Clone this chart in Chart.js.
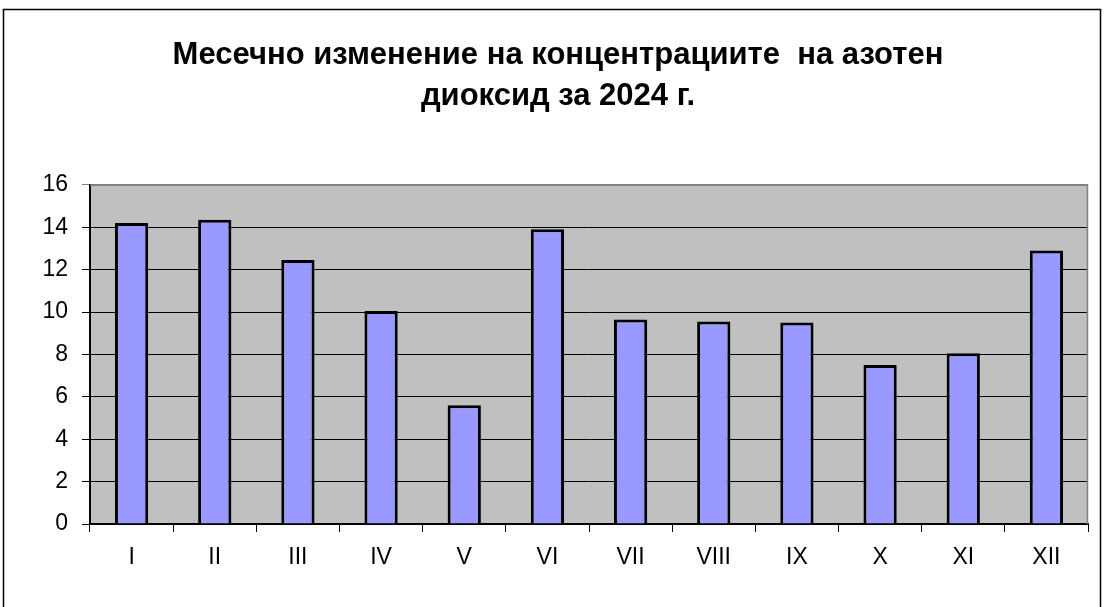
<!DOCTYPE html>
<html>
<head>
<meta charset="utf-8">
<script src="https://cdn.jsdelivr.net/npm/chart.js@4"></script>
<style>
  html, body { margin: 0; padding: 0; background: #fff; }
  #wrap { width: 1104px; height: 607px; }
</style>
</head>
<body>
<div id="wrap"><canvas id="chart" width="1104" height="607"></canvas></div>
<script>
"use strict";

// месеци и стойности (NO2)
const months = ["I", "II", "III", "IV", "V", "VI", "VII", "VIII", "IX", "X", "XI", "XII"];
const values = [14.2, 14.35, 12.45, 10.05, 5.6, 13.9, 9.65, 9.55, 9.5, 7.5, 8.05, 12.9];
const titleLines = ["Месечно изменение на концентрациите  на азотен", "диоксид за 2024 г."];
const yMin = 0, yMax = 16, yStep = 2;

const fontName = "'Liberation Sans', Arial, sans-serif";

// фон на графиката и рамка
const framePlugin = {
	id: "frame",
	beforeDraw(chart) {
		const ctx = chart.ctx;
		const a = chart.chartArea;
		ctx.save();
		ctx.fillStyle = "#fff";
		ctx.fillRect(0, 0, chart.width, chart.height);
		ctx.fillStyle = "#c0c0c0";
		ctx.fillRect(a.left, a.top, a.right - a.left, a.bottom - a.top);
		ctx.strokeStyle = "#000";
		ctx.lineWidth = 1.5;
		ctx.strokeRect(3.5, 9.5, chart.width - 7, chart.height + 20);
		ctx.restore();
	},
	afterDatasetsDraw(chart) {
		const ctx = chart.ctx;
		const a = chart.chartArea;
		ctx.save();
		ctx.strokeStyle = "#808080";
		ctx.lineWidth = 1.5;
		ctx.beginPath();
		ctx.moveTo(a.left, a.top + 0.5);
		ctx.lineTo(a.right - 0.5, a.top + 0.5);
		ctx.lineTo(a.right - 0.5, a.bottom);
		ctx.stroke();
		ctx.restore();
	}
};

const ctx = document.getElementById("chart");
const chart = new Chart(ctx, {
	type: "bar",
	data: {
		labels: months,
		datasets: [{
			data: values,
			backgroundColor: "#9999ff",
			borderColor: "#000",
			borderWidth: 3,
			barPercentage: 0.4,
			categoryPercentage: 1
		}]
	},
	plugins: [framePlugin],
	options: {
		responsive: false,
		animation: false,
		layout: { padding: { left: 28, right: 16, top: 0, bottom: 0 } },
		plugins: {
			legend: { display: false },
			tooltip: { enabled: false },
			title: {
				display: true,
				text: titleLines,
				color: "#000",
				font: { family: fontName, size: 31, weight: "bold", lineHeight: 1.32 },
				padding: { top: 35, bottom: 68 }
			}
		},
		scales: {
			x: {
				grid: {
					display: true,
					offset: true,
					drawOnChartArea: false,
					tickLength: 8,
					color: "#000"
				},
				border: { color: "#000", width: 2 },
				ticks: {
					color: "#000",
					padding: 12,
					font: { family: fontName, size: 23 }
				},
				afterFit(scale) { scale.height = 83; }
			},
			y: {
				min: yMin,
				max: yMax,
				ticks: {
					stepSize: yStep,
					color: "#000",
					padding: 14,
					font: { family: fontName, size: 23 }
				},
				grid: {
					color: c => (c.tick && c.tick.value === yMax) ? "#808080" : "#000",
					lineWidth: 1,
					tickLength: 8
				},
				border: { color: "#000", width: 2 },
				afterFit(scale) { scale.width = 62; }
			}
		}
	}
});
</script>
</body>
</html>
